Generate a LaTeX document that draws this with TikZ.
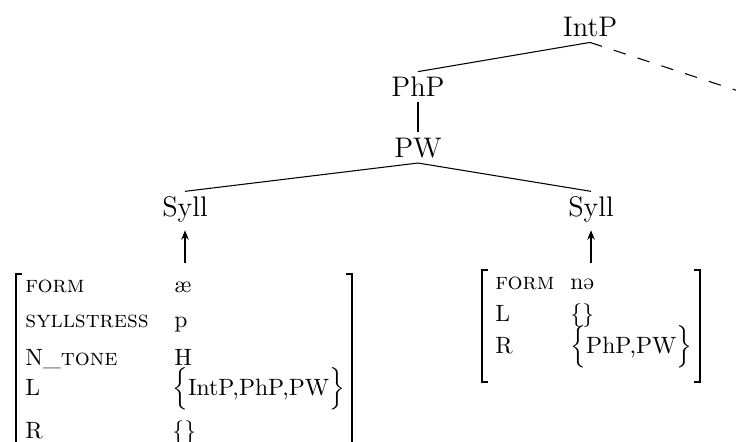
\documentclass[tikz,border=0pt]{standalone}
\usetikzlibrary{arrows.meta}
\tikzset{
  tn/.style={inner sep=2.1pt, font=\fontsize{12}{14.5}\selectfont},
  lab/.style={anchor=base west, inner sep=0pt},
  edge/.style={line width=0.45pt},
  brk/.style={line width=0.5pt},
  arr/.style={{Stealth[length=4pt,width=3.2pt]}-, line width=0.45pt, shorten <=1pt}
}
\begin{document}
\begin{tikzpicture}[x=0.4237pt,y=-0.4237pt]
\path[use as bounding box] (0,0) rectangle (736,441);
\clip (0,0) rectangle (736,441);
% tree
\node[tn,anchor=base] (intp) at (590,36.7) {IntP};
\node[tn,anchor=base] (php) at (418,96.7) {PhP};
\node[tn,anchor=base] (pw) at (418,157) {PW};
\node[tn,anchor=base] (syllL) at (185,216.7) {Syll};
\node[tn,anchor=base] (syllR) at (591,216.7) {Syll};
\coordinate (offR) at (800,111.2);
\draw[edge] (intp.south) -- (php.north);
\draw[edge, dash pattern=on 5.3pt off 5.3pt] (intp.south) -- (offR);
\draw[edge] (php.south) -- (pw.north);
\draw[edge] (pw.south) -- (syllL.north);
\draw[edge] (pw.south) -- (syllR.north);
\draw[arr] (syllL.south) -- ++(0,35);
\draw[arr] (syllR.south) -- ++(0,35);
% left AVM
\node[lab] (lf) at (25,292) {\textsc{form}};
\node[lab] (ls) at (25,327) {\textsc{syllstress}};
\node[lab] (ln) at (25,365) {N\_\textsc{tone}};
\node[lab] (ll) at (25,395) {L};
\node[lab] (lr) at (25,438) {R};
\node[lab] (vf) at (174,292) {æ};
\node[lab] (vs) at (174,327) {p};
\node[lab] (vn) at (174,365) {H};
\node[lab] (vl) at (172,395) {$\Bigl\{\mbox{IntP,PhP,PW}\Bigr\}$};
\node[lab] (vr) at (172,438) {$\{\}$};
\draw[brk] (22,274) -- (16,274) -- (16,470);
\draw[brk] (346,274) -- (352,274) -- (352,470);
% right AVM
\node[lab] (rf) at (495,289) {\textsc{form}};
\node[lab] (rl) at (495,321) {L};
\node[lab] (rr) at (495,353) {R};
\node[lab] (wf) at (570,289) {nə};
\node[lab] (wl) at (570,321) {$\{\}$};
\node[lab] (wr) at (570,353) {$\Bigl\{\mbox{PhP,PW}\Bigr\}$};
\draw[brk] (488,270) -- (482,270) -- (482,382) -- (488,382);
\draw[brk] (694,270) -- (700,270) -- (700,382) -- (694,382);
\end{tikzpicture}
\end{document}
